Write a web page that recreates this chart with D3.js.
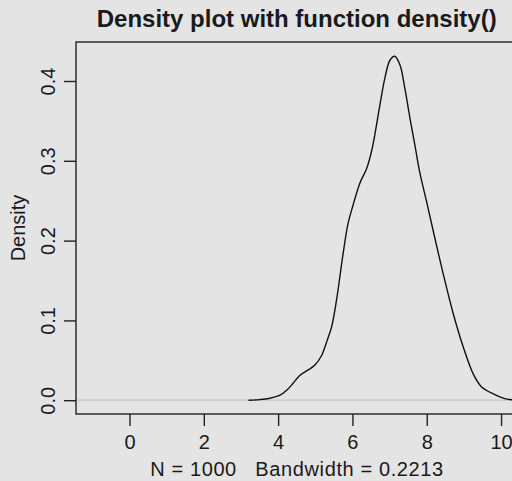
<!DOCTYPE html>
<html>
<head>
<meta charset="utf-8">
<script src="https://cdn.jsdelivr.net/npm/d3@7"></script>
<style>
  html, body { margin: 0; padding: 0; background: #e4e4e4; }
  svg { display: block; }
  text { font-family: "Liberation Sans", Arial, Helvetica, sans-serif; fill: #1a1a1a; }
</style>
</head>
<body>
<script>
// ---- data ----
const densX = [3.2, 3.5, 3.78, 4.05, 4.23, 4.40, 4.58, 4.81, 4.99, 5.17, 5.32, 5.44, 5.57, 5.75, 5.88, 6.02, 6.20, 6.38, 6.51, 6.60, 6.74, 6.87, 7.01, 7.14, 7.28, 7.41, 7.55, 7.68, 7.81, 7.99, 8.17, 8.44, 8.71, 8.98, 9.25, 9.47, 9.79, 10.10, 10.30, 10.6];
const densY = [0.0, 0.0008, 0.0025, 0.0063, 0.0125, 0.021, 0.031, 0.038, 0.044, 0.056, 0.075, 0.092, 0.125, 0.184, 0.221, 0.245, 0.272, 0.290, 0.311, 0.332, 0.370, 0.403, 0.426, 0.431, 0.420, 0.391, 0.353, 0.320, 0.286, 0.250, 0.213, 0.159, 0.109, 0.067, 0.033, 0.017, 0.008, 0.002, 0.0005, 0.0];
const xTicks = [0, 2, 4, 6, 8, 10];
const yTicks = [0.0, 0.1, 0.2, 0.3, 0.4];
const yTickLabels = ["0.0", "0.1", "0.2", "0.3", "0.4"];
const xLim = [-1, 10];
const yLim = [0, 0.4316];
const titleText = "Density plot with function density()";
const subText = "N = 1000   Bandwidth = 0.2213";
const yLabel = "Density";

// ---- layout ----
const W = 512, H = 481;
const plot = { left: 76, right: 517.4, top: 42, bottom: 414 };
const ext = (l) => { const d = (l[1] - l[0]) * 0.04; return [l[0] - d, l[1] + d]; };

const x = d3.scaleLinear().domain(ext(xLim)).range([plot.left, plot.right]);
const y = d3.scaleLinear().domain(ext(yLim)).range([plot.bottom, plot.top]);

const svg = d3.select("body").append("svg").attr("width", W).attr("height", H);
svg.append("rect").attr("width", W).attr("height", H).attr("fill", "#e4e4e4");

svg.append("clipPath").attr("id", "clip").append("rect")
  .attr("x", plot.left).attr("y", plot.top)
  .attr("width", plot.right - plot.left).attr("height", plot.bottom - plot.top);

// zero line
svg.append("line")
  .attr("clip-path", "url(#clip)")
  .attr("x1", plot.left).attr("x2", plot.right)
  .attr("y1", y(0)).attr("y2", y(0))
  .attr("stroke", "#c6c6c6").attr("stroke-width", 1.2);

// density curve
const pts = densX.map((d, i) => [d, densY[i]]);
svg.append("path")
  .datum(pts)
  .attr("clip-path", "url(#clip)")
  .attr("fill", "none")
  .attr("stroke", "#111")
  .attr("stroke-width", 1.4)
  .attr("d", d3.line().x(d => x(d[0])).y(d => y(Math.max(0, d[1]))).curve(d3.curveCatmullRom.alpha(0.5)));

// box
svg.append("rect")
  .attr("x", plot.left).attr("y", plot.top)
  .attr("width", plot.right - plot.left).attr("height", plot.bottom - plot.top)
  .attr("fill", "none").attr("stroke", "#222").attr("stroke-width", 1.4);

// x axis
const gx = svg.append("g").attr("transform", `translate(0,${plot.bottom})`)
  .call(d3.axisBottom(x).tickValues(xTicks).tickSize(12).tickFormat(d3.format("d")));
gx.select(".domain").remove();
gx.selectAll(".tick line").attr("stroke", "#222").attr("stroke-width", 1.4);
gx.selectAll(".tick text")
  .attr("y", 35).attr("dy", 0)
  .style("font-size", "20px").style("fill", "#1a1a1a")
  .attr("font-family", null);

// y axis
const gy = svg.append("g").attr("transform", `translate(${plot.left},0)`)
  .call(d3.axisLeft(y).tickValues(yTicks).tickSize(12).tickFormat((d, i) => yTickLabels[i]));
gy.select(".domain").remove();
gy.selectAll(".tick line").attr("stroke", "#222").attr("stroke-width", 1.4);
gy.selectAll(".tick text")
  .attr("x", 0).attr("y", -21).attr("dy", 0)
  .attr("transform", "rotate(-90)")
  .attr("text-anchor", "middle")
  .style("font-size", "20px").style("fill", "#1a1a1a");

const cx = (plot.left + plot.right) / 2;
const cy = (plot.top + plot.bottom) / 2;

// title
svg.append("text")
  .attr("x", cx).attr("y", 26.5)
  .attr("text-anchor", "middle")
  .style("font-size", "24px").style("font-weight", "bold")
  .text(titleText);

// sub label
svg.append("text")
  .attr("x", cx).attr("y", 476)
  .attr("text-anchor", "middle")
  .style("font-size", "20px")
  .style("white-space", "pre")
  .attr("xml:space", "preserve")
  .attr("textLength", 293)
  .attr("lengthAdjust", "spacing")
  .text(subText);

// y label
svg.append("text")
  .attr("transform", `translate(25,${cy}) rotate(-90)`)
  .attr("text-anchor", "middle")
  .style("font-size", "20px")
  .text(yLabel);
</script>
</body>
</html>
